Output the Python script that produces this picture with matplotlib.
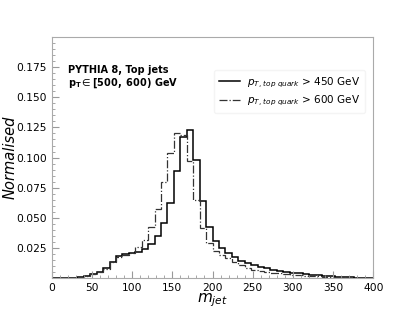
import numpy as np
import matplotlib.pyplot as plt
from matplotlib.ticker import MultipleLocator

# m_jet histogram, 50 bins of width 8 between 0 and 400
bin_edges = np.arange(0, 408, 8)

pt450 = [0.0, 0.0, 0.0001, 0.0004, 0.0009, 0.0018, 0.0033, 0.0053, 0.008, 0.0136,
         0.0183, 0.0198, 0.0205, 0.0215, 0.024, 0.0283, 0.0345, 0.0455, 0.062, 0.0886,
         0.117, 0.1228, 0.098, 0.0636, 0.0422, 0.031, 0.0247, 0.0205, 0.0172, 0.0142,
         0.0122, 0.0105, 0.0092, 0.008, 0.007, 0.006, 0.0052, 0.0045, 0.0038, 0.0032,
         0.0027, 0.0022, 0.0018, 0.0014, 0.0011, 0.0008, 0.0006, 0.0004, 0.0003, 0.0002]

pt600 = [0.0, 0.0, 0.0001, 0.0003, 0.0008, 0.0016, 0.003, 0.005, 0.0075, 0.013,
         0.0178, 0.0195, 0.0208, 0.0255, 0.0315, 0.042, 0.0575, 0.0795, 0.104, 0.1206,
         0.119, 0.097, 0.0645, 0.0415, 0.029, 0.022, 0.019, 0.0164, 0.0136, 0.011,
         0.0086, 0.0067, 0.0058, 0.005, 0.0044, 0.0038, 0.0033, 0.0028, 0.0024, 0.002,
         0.0017, 0.0014, 0.0011, 0.0009, 0.0007, 0.0005, 0.0004, 0.0003, 0.0002, 0.0001]

x_ticks = [0, 50, 100, 150, 200, 250, 300, 350, 400]
y_ticks = [0.025, 0.050, 0.075, 0.100, 0.125, 0.150, 0.175]

fig = plt.figure(figsize=(4.15, 3.12), dpi=100)
ax = fig.add_axes([0.1246, 0.109, 0.775, 0.772])

ax.stairs(pt450, bin_edges, color='black', linewidth=1.1,
          label=r'$p_{T,\, top\ quark}$ > 450 GeV')
ax.stairs(pt600, bin_edges, color='#333333', linewidth=0.9, linestyle='-.',
          label=r'$p_{T,\, top\ quark}$ > 600 GeV')

ax.set_xlim(0, 400)
ax.set_ylim(0, 0.2)
ax.set_xticks(x_ticks)
ax.set_yticks(y_ticks)
ax.xaxis.set_minor_locator(MultipleLocator(10))
ax.yaxis.set_minor_locator(MultipleLocator(0.005))
ax.tick_params(which='both', direction='in', colors='#999999', labelcolor='black',
               labelsize=7.7)
ax.tick_params(which='major', length=5)
ax.tick_params(which='minor', length=2.5)
for sp in ax.spines.values():
    sp.set_color('#aaaaaa')

ax.set_xlabel(r'$m_{jet}$', fontsize=11, labelpad=-1)
ax.set_ylabel('Normalised', fontsize=10.5, style='italic', labelpad=-1)

ax.text(0.05, 0.885, 'PYTHIA 8, Top jets', transform=ax.transAxes,
        fontsize=7.0, fontweight='bold', va='top')
ax.text(0.05, 0.835, r'$\mathbf{p_T} \in \mathbf{[500,\ 600)}$ GeV', transform=ax.transAxes,
        fontsize=7.0, fontweight='bold', va='top')

leg = ax.legend(loc='upper right', bbox_to_anchor=(0.99, 0.885), fontsize=7.5,
                handlelength=2.0, borderpad=0.5, labelspacing=0.4, handletextpad=0.6)
leg.get_frame().set_edgecolor('#f2f2f2')

fig.savefig('out.png', dpi=100)
